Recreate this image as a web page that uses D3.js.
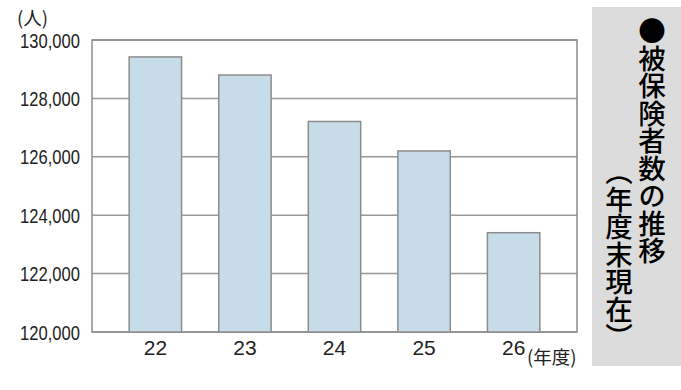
<!DOCTYPE html>
<html><head><meta charset="utf-8">
<script src="https://cdn.jsdelivr.net/npm/d3@7"></script>
<style>body{margin:0;background:#fff}</style></head>
<body>
<svg id="c" width="681" height="390"></svg>
<script>
const categories = ["22", "23", "24", "25", "26"];
const values = [129420, 128800, 127210, 126200, 123400];
const yTicks = [120000, 122000, 124000, 126000, 128000, 130000];
const yUnit = "(人)";
const xUnit = "(年度)";
const titleMain = "●被保険者数の推移";
const titleSub = "（年度末現在）";

const svg = d3.select("#c");
const L = 92, R = 577, T = 40, B = 332;
const x = d3.scaleBand().domain(categories).range([L, R]).padding(0.415);
const y = d3.scaleLinear().domain([120000, 130000]).range([B, T]);
const grey = "#8c8c8c";

// background panel
svg.append("rect").attr("x", 592).attr("y", 7).attr("width", 89).attr("height", 359).attr("fill", "#dcdcdc");

// gridlines
svg.append("g").selectAll("line").data(yTicks).join("line")
  .attr("x1", L).attr("x2", R).attr("y1", d => y(d)).attr("y2", d => y(d))
  .attr("stroke", "#999").attr("stroke-width", 1.5);

// plot frame
svg.append("rect").attr("x", L).attr("y", T).attr("width", R - L).attr("height", B - T)
  .attr("fill", "none").attr("stroke", grey).attr("stroke-width", 1.5);

// bars
svg.append("g").selectAll("rect").data(values).join("rect")
  .attr("x", (d, i) => x(categories[i])).attr("width", x.bandwidth())
  .attr("y", d => y(d)).attr("height", d => B - y(d))
  .attr("fill", "#c6dde9").attr("stroke", grey).attr("stroke-width", 1.5);

// y axis
const yAxis = svg.append("g").attr("transform", `translate(${L},0)`)
  .call(d3.axisLeft(y).tickValues(yTicks).tickSize(0).tickPadding(12).tickFormat(d3.format(",")));
yAxis.select(".domain").remove();
yAxis.selectAll("text").attr("font-family", "Liberation Sans, Arial, sans-serif").attr("font-size", 19.5).attr("fill", "#222")
  .attr("dy", "0.36em")
  .each(function () { const w = this.getComputedTextLength(); d3.select(this).attr("textLength", w * 0.85).attr("lengthAdjust", "spacingAndGlyphs"); });

// x axis
const xAxis = svg.append("g").attr("transform", `translate(0,${B})`)
  .call(d3.axisBottom(x).tickSize(0).tickPadding(8));
xAxis.select(".domain").remove();
xAxis.selectAll("text").attr("font-family", "Liberation Sans, Arial, sans-serif").attr("font-size", 21).attr("fill", "#222");

// units
svg.append("text").attr("x", 17).attr("y", 25).text(yUnit)
  .attr("font-family", "Noto Sans CJK JP, sans-serif").attr("font-size", 18.5).attr("fill", "#222");
svg.append("text").attr("x", 527).attr("y", 364).text(xUnit)
  .attr("font-family", "Noto Sans CJK JP, sans-serif").attr("font-size", 18.5).attr("fill", "#222");

// vertical title
svg.append("text").attr("x", 652).attr("y", 17).text(titleMain)
  .attr("style", "writing-mode: vertical-rl")
  .attr("font-family", "Noto Sans CJK JP, sans-serif").attr("font-weight", 500).attr("font-size", 27.5).attr("fill", "#000");
svg.append("text").attr("x", 619).attr("y", 158).text(titleSub)
  .attr("style", "writing-mode: vertical-rl")
  .attr("font-family", "Noto Sans CJK JP, sans-serif").attr("font-weight", 500).attr("font-size", 27.5).attr("fill", "#000");
</script>
</body></html>
